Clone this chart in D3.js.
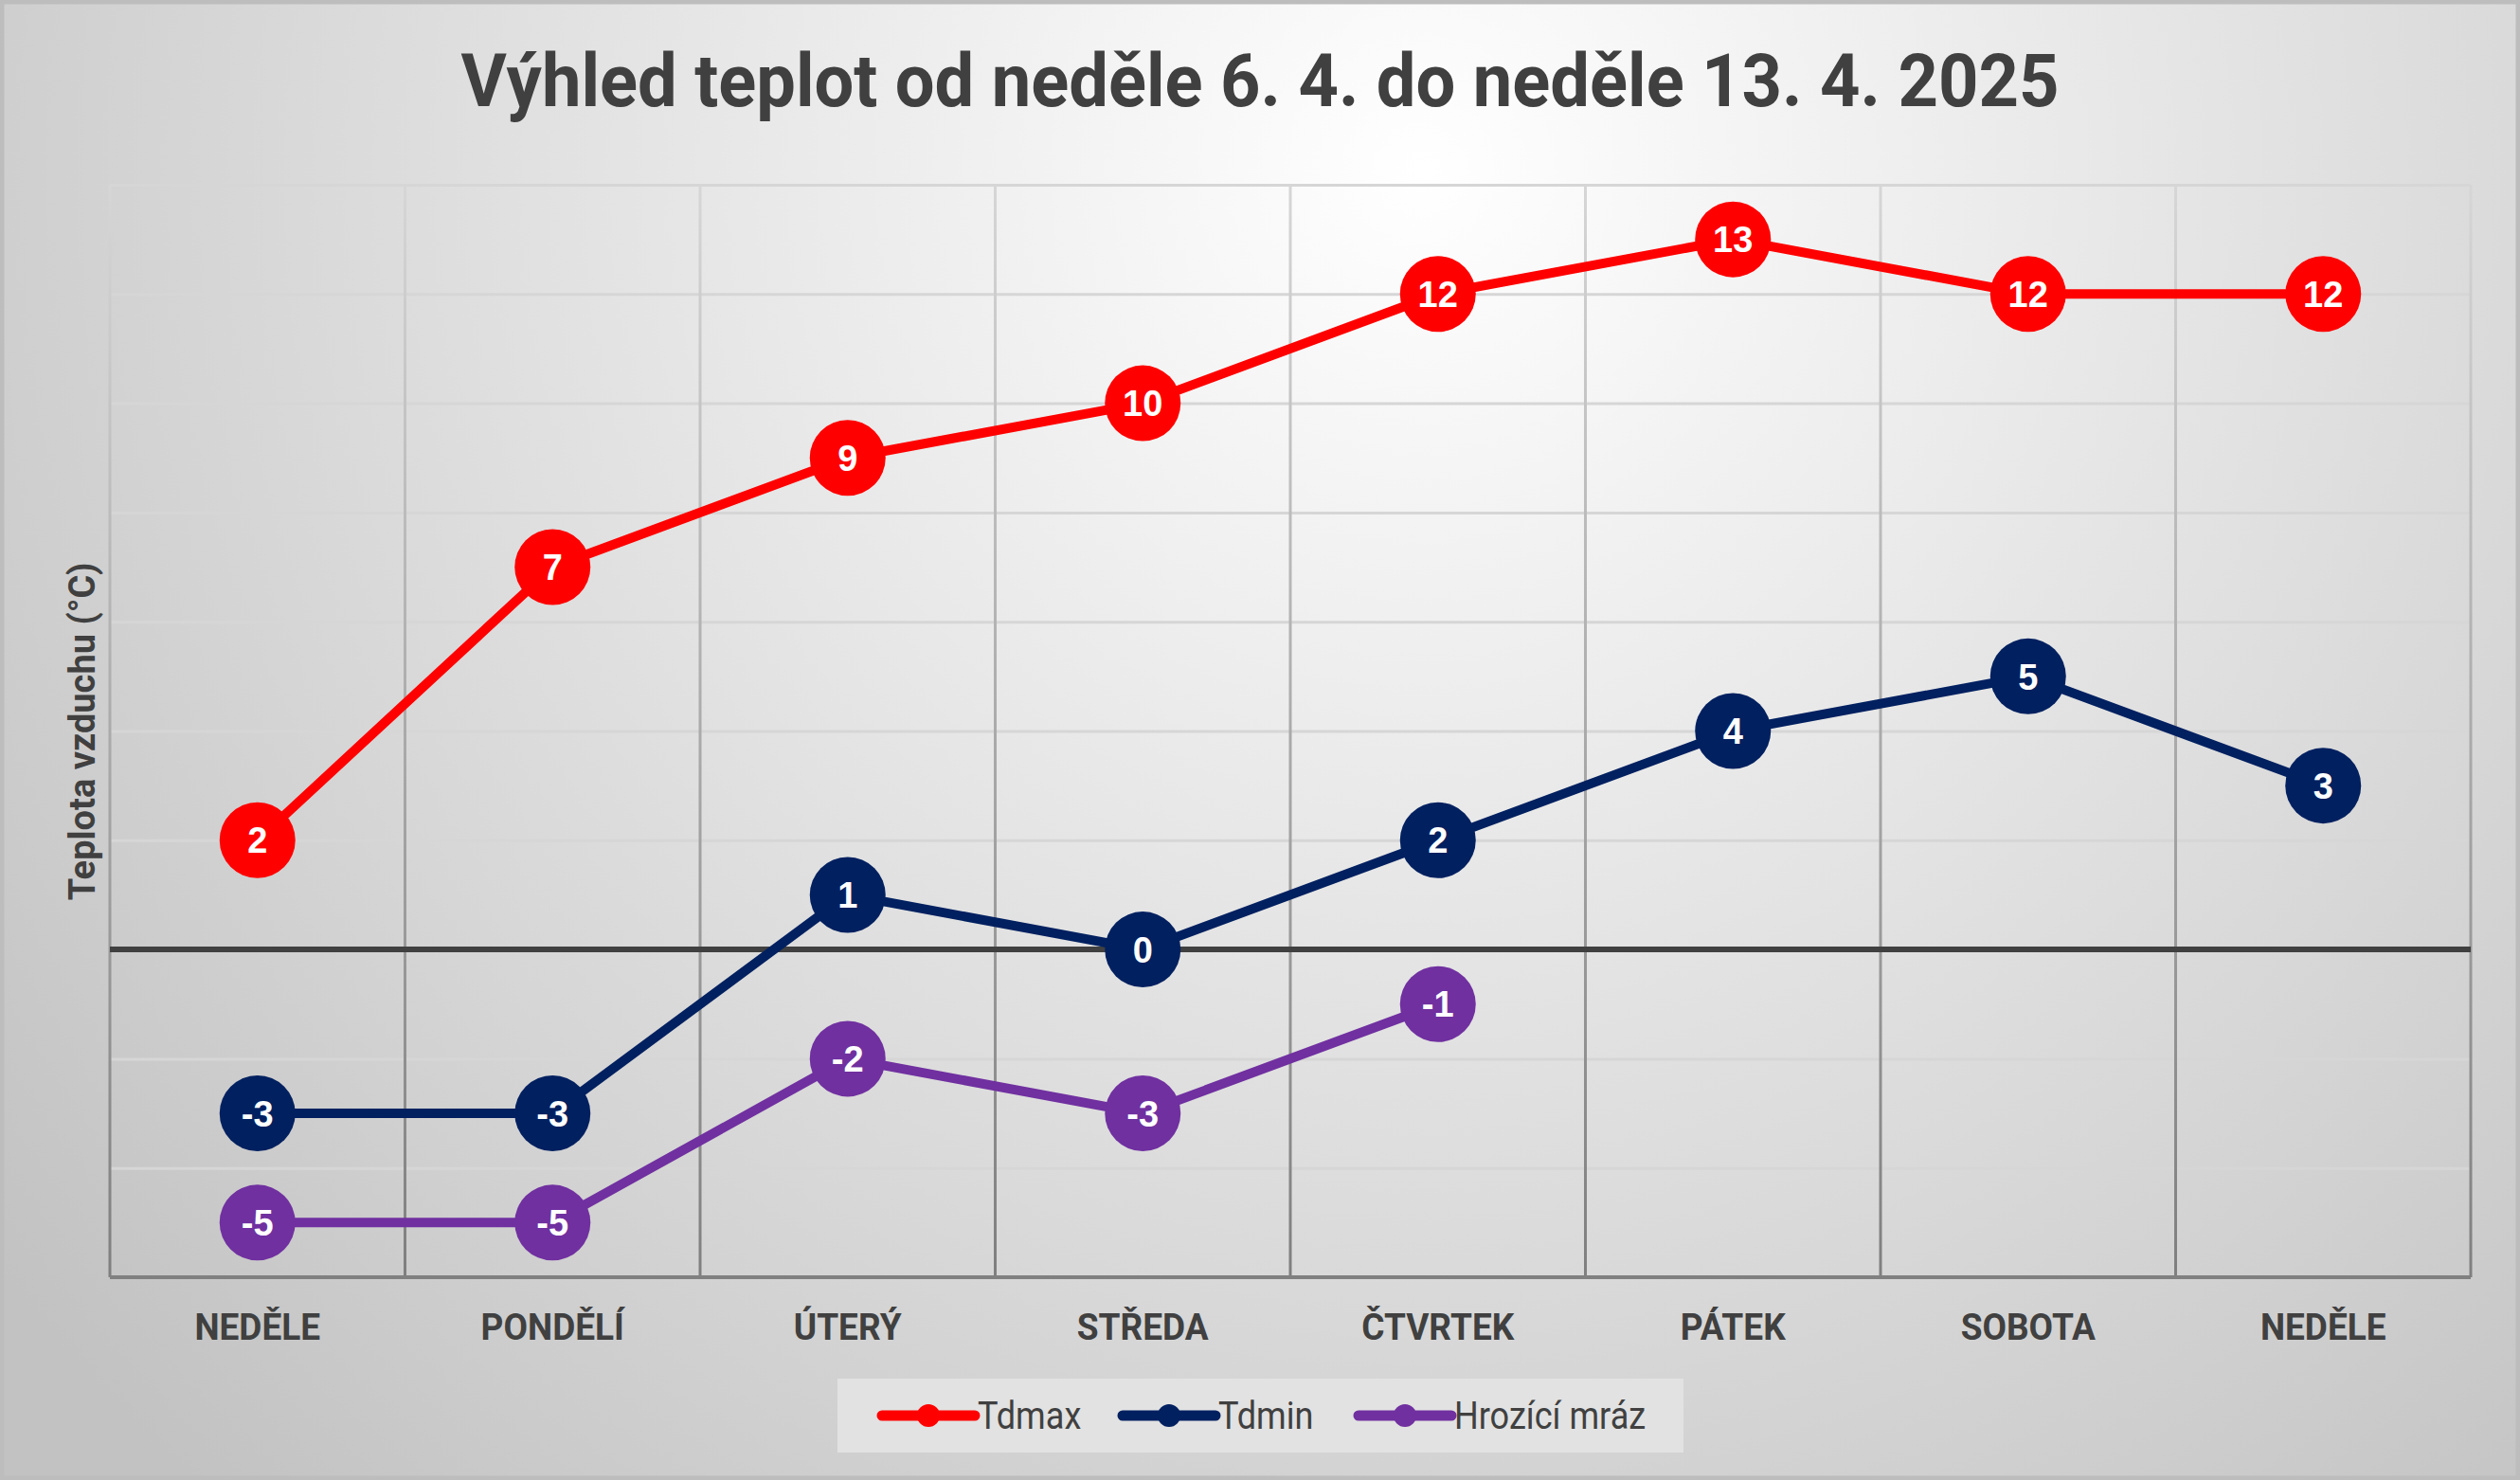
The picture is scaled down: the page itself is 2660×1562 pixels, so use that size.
<!DOCTYPE html>
<html>
<head>
<meta charset="utf-8">
<script src="https://cdn.jsdelivr.net/npm/d3@7"></script>
<style>
  html, body { margin: 0; padding: 0; background: #fff; }
  svg { display: block; }
</style>
</head>
<body>
<div id="chart"></div>
<script>
"use strict"

// Data
const days = ["NEDĚLE", "PONDĚLÍ", "ÚTERÝ", "STŘEDA", "ČTVRTEK", "PÁTEK", "SOBOTA", "NEDĚLE"];
const tdmax = [2, 7, 9, 10, 12, 13, 12, 12];
const tdmin = [-3, -3, 1, 0, 2, 4, 5, 3];
const mraz = [-5, -5, -2, -3, -1, null, null, null];
const seriesNames = ["Tdmax", "Tdmin", "Hrozící mráz"];
const seriesColors = ["#ff0000", "#002060", "#7030a0"];
const yDomain = [-6, 14];

const W = 2660, H = 1562;
const plot = {left: 116, right: 2608, top: 195, bottom: 1348};
const font = "Roboto, 'Noto Sans', sans-serif";
// no narrow font installed, so squeeze Roboto a little horizontally
const squeezeBold = 0.95;
const squeezeLegend = 0.88;

const svg = d3.select("#chart").append("svg")
  .attr("width", W)
  .attr("height", H);

const defs = svg.append("defs");

// chart background: radial gradient, bright near the title
const bg = defs.append("radialGradient")
  .attr("id", "bg")
  .attr("gradientUnits", "userSpaceOnUse")
  .attr("cx", 1500).attr("cy", 180)
  .attr("r", 1900);
bg.append("stop").attr("offset", "0%").attr("stop-color", "#ffffff");
bg.append("stop").attr("offset", "100%").attr("stop-color", "#c2c2c2");

// gridlines get darker toward the bottom
const gridGrad = defs.append("linearGradient")
  .attr("id", "grid")
  .attr("gradientUnits", "userSpaceOnUse")
  .attr("x1", 0).attr("y1", plot.top)
  .attr("x2", 0).attr("y2", plot.bottom);
gridGrad.append("stop").attr("offset", "0%").attr("stop-color", "#d6d6d6");
gridGrad.append("stop").attr("offset", "100%").attr("stop-color", "#7f7f7f");

svg.append("rect")
  .attr("x", 0).attr("y", 0)
  .attr("width", W).attr("height", H)
  .attr("fill", "url(#bg)");

svg.append("rect")
  .attr("x", 2).attr("y", 2)
  .attr("width", W - 4).attr("height", H - 4)
  .attr("fill", "none")
  .attr("stroke", "#bdbdbd")
  .attr("stroke-width", 5);

// Scales
const x = d3.scaleBand()
  .domain(d3.range(days.length))
  .range([plot.left, plot.right]);

const y = d3.scaleLinear()
  .domain(yDomain)
  .range([plot.bottom, plot.top]);

const cx = i => x(i) + x.bandwidth() / 2;

// Horizontal gridlines
svg.append("g")
  .attr("class", "ygrid")
  .attr("transform", `translate(${plot.left},0)`)
  .call(d3.axisLeft(y).ticks(10).tickSize(-(plot.right - plot.left)).tickFormat(""))
  .call(g => g.select(".domain").remove())
  .call(g => g.selectAll("line")
    .attr("stroke", "url(#grid)")
    .attr("stroke-width", 3));

// Vertical gridlines at band edges
const edges = d3.range(days.length + 1);
svg.append("g")
  .attr("class", "xgrid")
  .selectAll("line")
  .data(edges)
  .enter().append("line")
    .attr("x1", i => i < days.length ? x(i) : plot.right)
    .attr("x2", i => i < days.length ? x(i) : plot.right)
    .attr("y1", plot.top)
    .attr("y2", plot.bottom)
    .attr("stroke", "url(#grid)")
    .attr("stroke-width", 3);

// Bottom axis line and zero line
svg.append("line")
  .attr("x1", plot.left).attr("x2", plot.right)
  .attr("y1", plot.bottom).attr("y2", plot.bottom)
  .attr("stroke", "#808080")
  .attr("stroke-width", 4);

svg.append("line")
  .attr("x1", plot.left).attr("x2", plot.right)
  .attr("y1", y(0)).attr("y2", y(0))
  .attr("stroke", "#404040")
  .attr("stroke-width", 6);

// Category labels (baseline about 66px under the axis)
svg.append("g")
  .attr("class", "xaxis")
  .selectAll("text")
  .data(d3.range(days.length))
  .enter().append("text")
    .attr("transform", i => `translate(${cx(i)},${plot.bottom + 66}) scale(${squeezeBold},1)`)
    .attr("text-anchor", "middle")
    .attr("font-family", font)
    .attr("font-weight", "bold")
    .attr("font-size", 39)
    .attr("fill", "#404040")
    .text(i => days[i]);

// Series
const series = [tdmax, tdmin, mraz].map((vals, k) => ({
  name: seriesNames[k],
  color: seriesColors[k],
  values: vals.map((v, i) => ({i: i, v: v}))
}));

const line = d3.line()
  .defined(d => d.v !== null)
  .x(d => cx(d.i))
  .y(d => y(d.v));

const sg = svg.selectAll(".series")
  .data(series)
  .enter().append("g")
    .attr("class", "series");

sg.append("path")
  .attr("d", d => line(d.values))
  .attr("fill", "none")
  .attr("stroke", d => d.color)
  .attr("stroke-width", 10)
  .attr("stroke-linejoin", "round");

const pts = sg.selectAll(".pt")
  .data(d => d.values.filter(p => p.v !== null).map(p => ({...p, color: d.color})))
  .enter().append("g")
    .attr("class", "pt")
    .attr("transform", d => `translate(${cx(d.i)},${y(d.v)})`);

pts.append("circle")
  .attr("r", 40)
  .attr("fill", d => d.color);

pts.append("text")
  .attr("text-anchor", "middle")
  .attr("dy", "0.36em")
  .attr("font-family", "'Liberation Sans', Arial, sans-serif")
  .attr("font-weight", "bold")
  .attr("font-size", 38)
  .attr("fill", "#ffffff")
  .text(d => d.v);

// Title
svg.append("text")
  .attr("transform", `translate(1330,112) scale(${squeezeBold},1)`)
  .attr("text-anchor", "middle")
  .attr("font-family", font)
  .attr("font-weight", "bold")
  .attr("font-size", 78)
  .attr("fill", "#404040")
  .text("Výhled teplot od neděle 6. 4. do neděle 13. 4. 2025");

// Y axis title
svg.append("text")
  .attr("transform", `translate(100,${(597 + 947) / 2}) rotate(-90)`)
  .attr("text-anchor", "middle")
  .attr("font-family", font)
  .attr("font-weight", "bold")
  .attr("font-size", 38)
  .attr("fill", "#404040")
  .text("Teplota vzduchu (°C)");

// Legend
const legendBox = {x: 884, y: 1455, w: 893, h: 78};
const legendX = [931, 1185, 1434];
const legendY = 1494;

svg.append("rect")
  .attr("x", legendBox.x).attr("y", legendBox.y)
  .attr("width", legendBox.w).attr("height", legendBox.h)
  .attr("fill", "#e2e2e2");

const li = svg.selectAll(".legend-item")
  .data(series)
  .enter().append("g")
    .attr("class", "legend-item")
    .attr("transform", (d, k) => `translate(${legendX[k]},${legendY})`);

li.append("line")
  .attr("x1", 0).attr("x2", 98)
  .attr("stroke", d => d.color)
  .attr("stroke-width", 11)
  .attr("stroke-linecap", "round");

li.append("circle")
  .attr("cx", 49)
  .attr("r", 12)
  .attr("fill", d => d.color);

li.append("text")
  .attr("transform", `translate(101,0) scale(${squeezeLegend},1)`)
  .attr("dy", "0.35em")
  .attr("font-family", font)
  .attr("font-size", 41)
  .attr("fill", "#404040")
  .text(d => d.name);
</script>
</body>
</html>
